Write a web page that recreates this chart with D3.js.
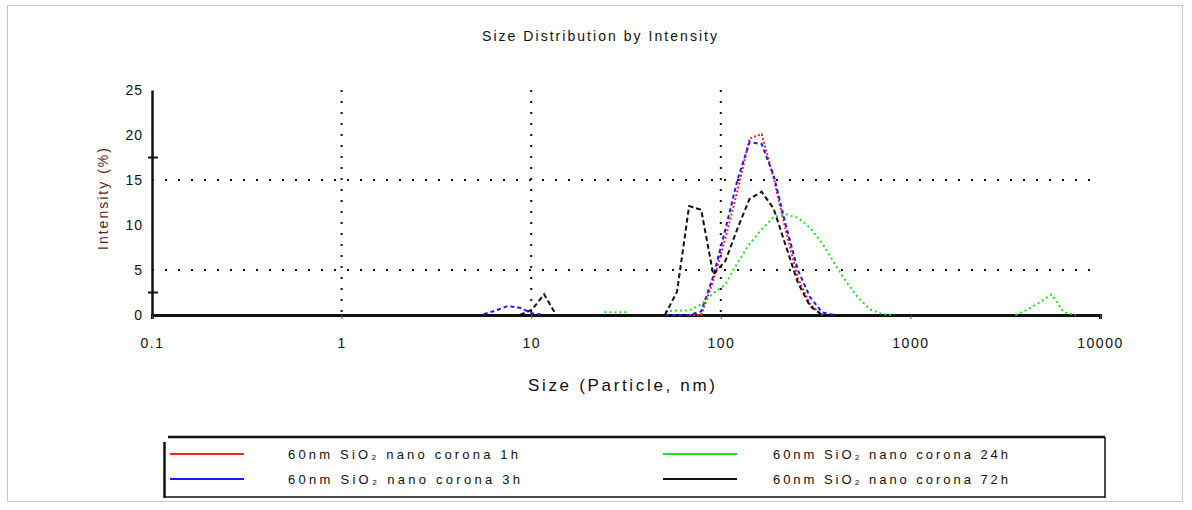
<!DOCTYPE html>
<html>
<head>
<meta charset="utf-8">
<script src="https://cdn.jsdelivr.net/npm/d3@7"></script>
<style>
  body { margin: 0; background: #fff; }
  text { font-family: "Liberation Sans", Arial, sans-serif; fill: #111; }
</style>
</head>
<body>
<div id="container"></div>
<script>
// Malvern size bins (d.nm)
var sizes = [0.4, 0.4632, 0.5365, 0.6213, 0.7195, 0.8332, 0.9649, 1.117, 1.294, 1.499,
             1.736, 2.010, 2.328, 2.696, 3.122, 3.615, 4.187, 4.849, 5.615, 6.503,
             7.531, 8.721, 10.10, 11.70, 13.54, 15.69, 18.17, 21.04, 24.36, 28.21,
             32.67, 37.84, 43.82, 50.75, 58.77, 68.06, 78.82, 91.28, 105.7, 122.4,
             141.8, 164.2, 190.1, 220.2, 255.0, 295.3, 342.0, 396.1, 458.7, 531.2,
             615.1, 712.4, 825.0, 955.4, 1106, 1281, 1484, 1718, 1990, 2305,
             2669, 3091, 3580, 4145, 4801, 5560, 6439, 7456, 8635, 10000];

// Intensity (%) per bin, null = not drawn
var n = null;
var red1h = [n, n, n, n, n, n, n, n, n, n,
             n, n, n, n, n, n, n, n, n, n,
             n, n, n, n, n, n, n, n, n, n,
             n, n, n, n, n, 0, 0, 3.8, 8.5, 13.8,
             19.6, 20.1, 15.2, 9.4, 4.1, 1.2, 0, n, n, n,
             n, n, n, n, n, n, n, n, n, n,
             n, n, n, n, n, n, n, n, n, n];
var blue3h = [n, n, n, n, n, n, n, n, n, n,
              n, n, n, n, n, n, n, n, 0.1, 0.5,
              1.0, 0.8, 0.2, 0, n, n, n, n, n, n,
              n, n, n, 0, 0, 0, 0.4, 4.3, 9.5, 15.0,
              19.2, 19.0, 15.5, 10.0, 5.0, 2.0, 0.3, 0, n, n,
              n, n, n, n, n, n, n, n, n, n,
              n, n, n, n, n, n, n, n, n, n];
var green24h = [n, n, n, n, n, n, n, n, n, n,
                n, n, n, n, n, n, n, n, n, n,
                n, n, n, n, n, n, n, n, 0.3, 0.3,
                0.3, n, n, 0.4, 0.5, 0.5, 1.2, 2.4, 3.4, 5.8,
                7.9, 9.5, 10.9, 11.2, 10.8, 9.7, 8.0, 5.8, 3.7, 1.9,
                0.6, 0.1, 0, n, n, n, n, n, n, n,
                n, n, 0, 0.6, 1.4, 2.3, 0.3, 0, n, n];
var black72h = [n, n, n, n, n, n, n, n, n, n,
                n, n, n, n, n, n, n, n, n, n,
                n, 0, 0.6, 2.3, 0, n, n, n, n, n,
                n, n, n, 0, 2.6, 12.1, 11.7, 4.5, 6.0, 9.6,
                12.9, 13.7, 11.8, 7.7, 3.6, 1.0, 0, n, n, n,
                n, n, n, n, n, n, n, n, n, n,
                n, n, n, n, n, n, n, n, n, n];

var seriesNames = ["60nm SiO\u2082 nano corona 1h", "60nm SiO\u2082 nano corona 3h",
                   "60nm SiO\u2082 nano corona 24h", "60nm SiO\u2082 nano corona 72h"];
var seriesColors = ["#ff2020", "#1a1aff", "#22e022", "#111111"];
var seriesDash = ["2,2", "4,3", "2,3", "5,3"];
var seriesValues = [red1h, blue3h, green24h, black72h];

var xTicks = [0.1, 1, 10, 100, 1000, 10000];
var yTicks = [0, 5, 10, 15, 20, 25];
var yGrid = [5, 15];
var xGrid = [1, 10, 100];

var width = 1192,
    height = 510;

var svg = d3.select("#container")
            .append("svg")
              .attr("width", width)
              .attr("height", height);

// outer frame
svg.append("rect")
    .attr("x", 7.5).attr("y", 5.5)
    .attr("width", 1175).attr("height", 496)
    .attr("fill", "none")
    .attr("stroke", "#c8c8c8");

var x = d3.scaleLog()
          .domain([0.1, 10000])
          .range([152, 1100]);
var y = d3.scaleLinear()
          .domain([0, 25])
          .range([315, 90]);

// dotted grid
svg.selectAll(".hgrid")
    .data(yGrid)
    .enter()
    .append("line")
      .attr("x1", 152).attr("x2", 1100)
      .attr("y1", function(d) { return y(d); })
      .attr("y2", function(d) { return y(d); })
      .attr("stroke", "#111")
      .attr("stroke-width", 2)
      .attr("stroke-dasharray", "2,11");

svg.selectAll(".vgrid")
    .data(xGrid)
    .enter()
    .append("line")
      .attr("x1", function(d) { return x(d); })
      .attr("x2", function(d) { return x(d); })
      .attr("y1", 90).attr("y2", 315)
      .attr("stroke", "#111")
      .attr("stroke-width", 2)
      .attr("stroke-dasharray", "2,9");

// axes
var xAxis = svg.append("g")
    .attr("transform", "translate(0,315)")
    .call(d3.axisBottom(x)
            .tickValues(xTicks)
            .tickFormat(function(d) { return String(d); })
            .tickSize(4)
            .tickPadding(19));
xAxis.select(".domain").attr("stroke", "#111").attr("stroke-width", 3);
xAxis.selectAll(".tick line").attr("stroke", "#555");
xAxis.selectAll("text")
    .style("font-size", "14px")
    .style("letter-spacing", "1.5px")
    .attr("fill", "#111");

var yAxis = svg.append("g")
    .attr("transform", "translate(152,0)")
    .call(d3.axisLeft(y)
            .tickValues(yTicks)
            .tickSize(0)
            .tickPadding(9));
yAxis.select(".domain").attr("stroke", "#111").attr("stroke-width", 2.5);
yAxis.selectAll("text")
    .style("font-size", "14px")
    .style("letter-spacing", "1px")
    .attr("fill", "#111");

// odd little cross ticks on the y axis
svg.selectAll(".ytick2")
    .data([2.5, 17.5])
    .enter()
    .append("line")
      .attr("x1", 148).attr("x2", 158)
      .attr("y1", function(d) { return y(d); })
      .attr("y2", function(d) { return y(d); })
      .attr("stroke", "#111")
      .attr("stroke-width", 2);

// curves
var line = d3.line()
             .defined(function(d) { return d[1] !== null; })
             .x(function(d) { return x(d[0]); })
             .y(function(d) { return y(d[1]); });

for (var i = 0; i < seriesValues.length; i++) {
  var pts = sizes.map(function(s, j) { return [s, seriesValues[i][j]]; });
  svg.append("path")
      .datum(pts)
      .attr("d", line)
      .attr("fill", "none")
      .attr("stroke", seriesColors[i])
      .attr("stroke-width", 2)
      .attr("stroke-dasharray", seriesDash[i]);
}

// titles
svg.append("text")
    .attr("x", 482).attr("y", 41)
    .attr("textLength", 235)
    .attr("lengthAdjust", "spacing")
    .style("font-size", "14px")
    .text("Size Distribution by Intensity");

svg.append("text")
    .attr("transform", "translate(108,250) rotate(-90)")
    .attr("textLength", 102)
    .attr("lengthAdjust", "spacing")
    .style("font-size", "14px")
    .style("fill", "#5a1f14")
    .text("Intensity (%)");

svg.append("text")
    .attr("x", 528).attr("y", 391)
    .attr("textLength", 187)
    .attr("lengthAdjust", "spacing")
    .style("font-size", "17px")
    .text("Size (Particle, nm)");

// legend box
var legend = svg.append("g");
legend.append("line").attr("x1", 168).attr("x2", 1105).attr("y1", 437).attr("y2", 437)
    .attr("stroke", "#111").attr("stroke-width", 2.5);
legend.append("line").attr("x1", 164.5).attr("x2", 164.5).attr("y1", 442).attr("y2", 498)
    .attr("stroke", "#111").attr("stroke-width", 2.5);
legend.append("line").attr("x1", 1105).attr("x2", 1105).attr("y1", 437).attr("y2", 498)
    .attr("stroke", "#111").attr("stroke-width", 1.5);
legend.append("line").attr("x1", 164).attr("x2", 1105).attr("y1", 497).attr("y2", 497)
    .attr("stroke", "#111").attr("stroke-width", 1.5);

var legX = [170, 170, 663, 663],
    legY = [454, 479, 454, 479],
    legTx = [288, 288, 773, 773],
    legLen = [230, 232, 235, 235];

legend.selectAll(".legline")
    .data(seriesNames)
    .enter()
    .append("line")
      .attr("x1", function(d, i) { return legX[i]; })
      .attr("x2", function(d, i) { return legX[i] + 74; })
      .attr("y1", function(d, i) { return legY[i]; })
      .attr("y2", function(d, i) { return legY[i]; })
      .attr("stroke", function(d, i) { return seriesColors[i]; })
      .attr("stroke-width", 2);

legend.selectAll(".legtext")
    .data(seriesNames)
    .enter()
    .append("text")
      .attr("x", function(d, i) { return legTx[i]; })
      .attr("y", function(d, i) { return legY[i] + 5; })
      .attr("textLength", function(d, i) { return legLen[i]; })
      .attr("lengthAdjust", "spacing")
      .style("font-size", "13px")
      .text(function(d) { return d; });
</script>
</body>
</html>
